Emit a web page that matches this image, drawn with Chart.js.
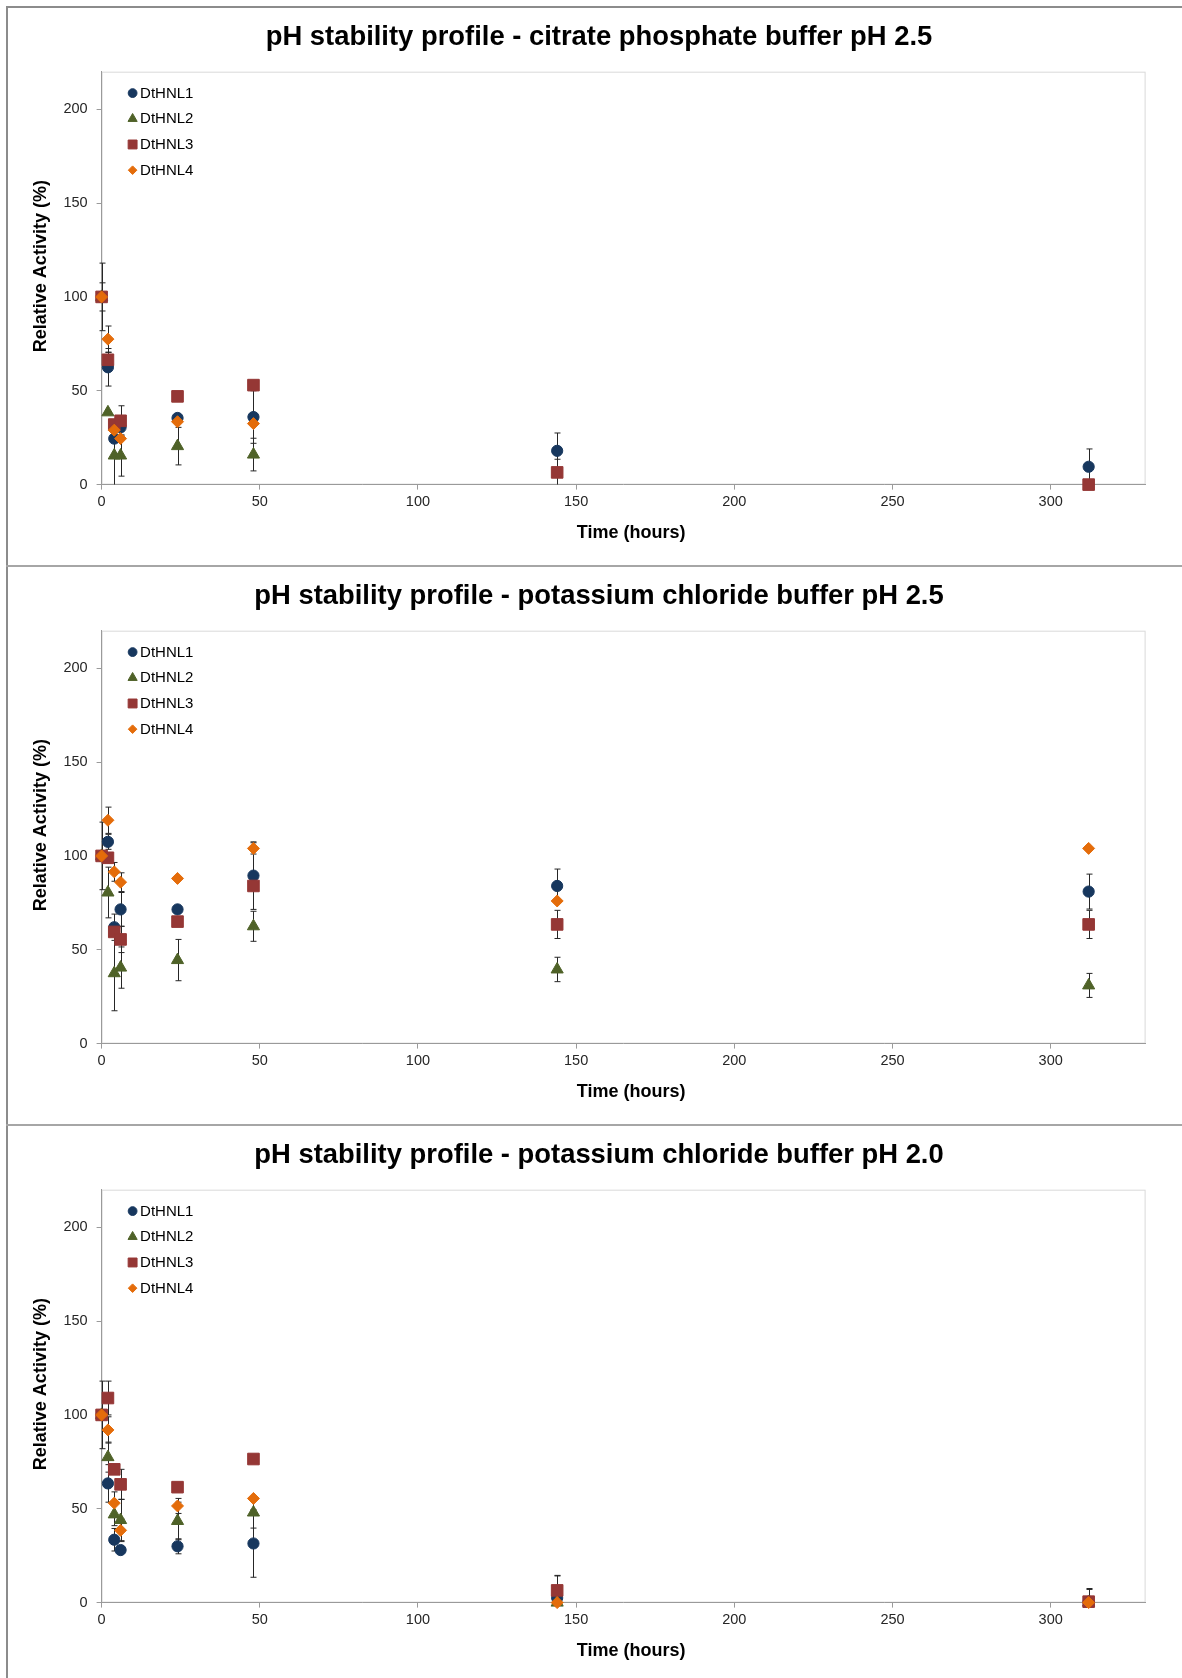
<!DOCTYPE html>
<html>
<head>
<meta charset="utf-8">
<script src="https://cdn.jsdelivr.net/npm/chart.js@4/dist/chart.umd.min.js"></script>
<style>
  body { margin: 0; background: #fff; overflow: hidden; }
  .frame { position: absolute; left: 6px; top: 6px; width: 1176px; height: 1672px;
           border-left: 2px solid #8c8c8c; border-top: 2px solid #8c8c8c; }
  .panel { position: absolute; left: 8px; width: 1174px; height: 557px; }
  .sep { position: absolute; left: 6px; width: 1176px; height: 2px; background: #a6a6a6; }
</style>
</head>
<body>
<div class="frame"></div>
<div class="panel" style="top:8px"><canvas id="chart-citrate"></canvas></div>
<div class="sep" style="top:565px"></div>
<div class="panel" style="top:567px"><canvas id="chart-kcl25"></canvas></div>
<div class="sep" style="top:1124px"></div>
<div class="panel" style="top:1126px"><canvas id="chart-kcl20"></canvas></div>
<script>
// sampling times (hours)
const hours = [0, 2, 4, 6, 24, 48, 144, 312];
const seriesNames = ["DtHNL1", "DtHNL2", "DtHNL3", "DtHNL4"];
const xTicks = [0, 50, 100, 150, 200, 250, 300];
const yTicks = [0, 50, 100, 150, 200];

// citrate phosphate buffer pH 2.5
const citrate1 = [100, 62.5, 24.5, 30.5, 35.5, 36, 18, 9.5];
const citrate2 = [100, 38.5, 15.5, 15.5, 20.5, 16, null, null];
const citrate3 = [100, 66.5, 32, 34, 47, 53, 6.5, 0];
const citrate4 = [100, 77.5, 29, 24.5, 33.5, 32.5, null, null];
const citrate1Err = [18, 10, 10, 6, 1, 14, 9.5, 9.5];
const citrate2Err = [0, 0, 16, 11, 10, 8.7, 0, 0];
const citrate3Err = [0, 4, 0, 8, 0, 0, 7, 0];
const citrate4Err = [7.5, 7, 0, 0, 0, 0, 0, 0];

// potassium chloride buffer pH 2.5
const kcl25_1 = [100, 107.5, 62, 71.5, 71.5, 89.5, 84, 81];
const kcl25_2 = [100, 80.5, 37.5, 40.5, 44.5, 62.5, 39.5, 31];
const kcl25_3 = [100, 99, 59.5, 55.5, 65, 84, 63.5, 63.5];
const kcl25_4 = [100, 119, 91.5, 86, 88, 104, 76, 104];
const kcl25_1Err = [18, 4, 7, 9, 1, 18, 9, 9.3];
const kcl25_2Err = [0, 13.5, 20, 11, 11, 8, 6.5, 6.4];
const kcl25_3Err = [0, 0, 0, 7, 0, 0, 7.5, 7.5];
const kcl25_4Err = [0, 7, 5, 5, 0, 3, 0, 0];

// potassium chloride buffer pH 2.0
const kcl20_1 = [100, 63.5, 33.5, 28, 30, 31.5, 2.5, 0.5];
const kcl20_2 = [100, 77.5, 47, 44, 43.5, 48, 0, 0];
const kcl20_3 = [100, 109, 71, 63, 61.5, 76.5, 6.5, 0.5];
const kcl20_4 = [100, 92, 53, 38.5, 51.5, 55.5, 0, 0];
const kcl20_1Err = [18, 10, 6, 0, 4, 18, 12, 7];
const kcl20_2Err = [0, 8, 6, 11, 10, 8.3, 0, 0];
const kcl20_3Err = [0, 9, 0, 8, 0, 0, 7.7, 6.5];
const kcl20_4Err = [0, 7, 6, 6, 4, 0, 0, 0];

const colors = ["#17375E", "#4F6228", "#953735", "#E46C0A"];
const shapes = ["circle", "triangle", "rect", "rectRot"];
const radii = [5.6, 7, 8.2, 6];
const legendRadii = [4.4, 5.3, 6.3, 4.3];
const FONT = "'Liberation Sans', Arial, sans-serif";

// thin dark error bars with short caps, clipped to the plot height
const errorBars = {
    id: "errorBars",
    beforeDatasetsDraw(chart) {
        const {ctx, chartArea: a, scales: {x, y}} = chart;
        ctx.save();
        ctx.beginPath();
        ctx.rect(a.left - 10, a.top, a.width + 20, a.height);
        ctx.clip();
        ctx.strokeStyle = "#262626";
        ctx.lineWidth = 1;
        chart.data.datasets.forEach(ds => {
            ds.data.forEach((p, i) => {
                const e = ds.errors[i];
                if (p.y == null || !e) return;
                const px = Math.round(x.getPixelForValue(p.x)) + 0.5;
                const t = y.getPixelForValue(p.y + e);
                const b = y.getPixelForValue(p.y - e);
                ctx.beginPath();
                ctx.moveTo(px, t); ctx.lineTo(px, b);
                ctx.moveTo(px - 3, t); ctx.lineTo(px + 3, t);
                ctx.moveTo(px - 3, b); ctx.lineTo(px + 3, b);
                ctx.stroke();
            });
        });
        ctx.restore();
    }
};

// light plot area box + axis titles
const plotFrame = {
    id: "plotFrame",
    beforeDraw(chart) {
        const {ctx, chartArea: a} = chart;
        ctx.save();
        ctx.strokeStyle = "#d9d9d9";
        ctx.lineWidth = 1;
        ctx.strokeRect(a.left + 0.5, a.top + 0.5, a.width - 1, a.height - 1);
        ctx.font = "bold 18px " + FONT;
        ctx.fillStyle = "#000";
        ctx.textAlign = "center";
        ctx.textBaseline = "middle";
        ctx.fillText("Time (hours)", (a.left + a.right) / 2 + 7.5, a.bottom + 48.5);
        ctx.translate(33, (a.top + a.bottom) / 2 - 12);
        ctx.rotate(-Math.PI / 2);
        ctx.fillText("Relative Activity (%)", 0, 0);
        ctx.restore();
    }
};

// legend box in the top-left corner of the plot area
const cornerLegend = {
    id: "cornerLegend",
    afterDatasetsDraw(chart) {
        const {ctx, chartArea: a} = chart;
        ctx.save();
        ctx.font = "15px " + FONT;
        ctx.textAlign = "left";
        ctx.textBaseline = "middle";
        chart.data.datasets.forEach((ds, i) => {
            const cy = a.top + 21.4 + i * 25.7;
            const cx = a.left + 31;
            ctx.fillStyle = ds.backgroundColor;
            ctx.strokeStyle = ds.borderColor;
            ctx.lineWidth = 1;
            Chart.helpers.drawPoint(ctx, {pointStyle: ds.pointStyle, radius: legendRadii[i], borderWidth: 1}, cx, cy);
            ctx.fillStyle = "#000";
            ctx.fillText(ds.label, a.left + 38.5, cy + 0.5);
        });
        ctx.restore();
    }
};

function makeChart(id, title, values, errors) {
    const datasets = values.map((vals, s) => ({
        label: seriesNames[s],
        data: hours.map((h, i) => ({x: h, y: vals[i]})),
        errors: errors[s],
        order: values.length - s, // later series drawn on top, as in the original
        pointStyle: shapes[s],
        pointRadius: radii[s],
        pointHoverRadius: radii[s],
        backgroundColor: colors[s],
        borderColor: colors[s],
        borderWidth: 1,
        showLine: false,
        clip: false
    }));
    return new Chart(document.getElementById(id), {
        type: "scatter",
        data: {datasets: datasets},
        options: {
            responsive: true,
            maintainAspectRatio: false,
            animation: false,
            layout: {padding: {left: 8, top: 0, right: 0, bottom: 0}},
            plugins: {
                title: {
                    display: true,
                    text: title,
                    color: "#000",
                    font: {family: FONT, size: 27.4, weight: "bold"},
                    padding: {top: 12.6, bottom: 18.2}
                },
                legend: {display: false},
                tooltip: {enabled: false}
            },
            scales: {
                x: {
                    type: "linear",
                    min: 0,
                    max: 330,
                    afterFit: s => { s.height = 80.4; },
                    afterBuildTicks: s => { s.ticks = xTicks.map(v => ({value: v})); },
                    ticks: {
                        color: "#262626",
                        padding: 4,
                        font: {family: FONT, size: 14.5}
                    },
                    grid: {drawOnChartArea: false, tickLength: 5, tickColor: "#9a9a9a"},
                    border: {color: "#9a9a9a"}
                },
                y: {
                    min: 0,
                    max: 220,
                    afterFit: s => { s.width = 85.6; },
                    afterBuildTicks: s => { s.ticks = yTicks.map(v => ({value: v})); },
                    ticks: {
                        color: "#262626",
                        padding: 9,
                        font: {family: FONT, size: 14.5}
                    },
                    grid: {drawOnChartArea: false, tickLength: 5, tickColor: "#9a9a9a"},
                    border: {color: "#9a9a9a"}
                },
                // empty right-hand margin so the plot ends where the reference does
                yRight: {
                    position: "right",
                    min: 0,
                    max: 1,
                    afterFit: s => { s.width = 36.4; },
                    ticks: {display: false},
                    grid: {display: false},
                    border: {display: false}
                }
            }
        },
        plugins: [plotFrame, errorBars, cornerLegend]
    });
}

makeChart("chart-citrate", "pH stability profile - citrate phosphate buffer pH 2.5",
    [citrate1, citrate2, citrate3, citrate4],
    [citrate1Err, citrate2Err, citrate3Err, citrate4Err]);
makeChart("chart-kcl25", "pH stability profile - potassium chloride buffer pH 2.5",
    [kcl25_1, kcl25_2, kcl25_3, kcl25_4],
    [kcl25_1Err, kcl25_2Err, kcl25_3Err, kcl25_4Err]);
makeChart("chart-kcl20", "pH stability profile - potassium chloride buffer pH 2.0",
    [kcl20_1, kcl20_2, kcl20_3, kcl20_4],
    [kcl20_1Err, kcl20_2Err, kcl20_3Err, kcl20_4Err]);
</script>
</body>
</html>
